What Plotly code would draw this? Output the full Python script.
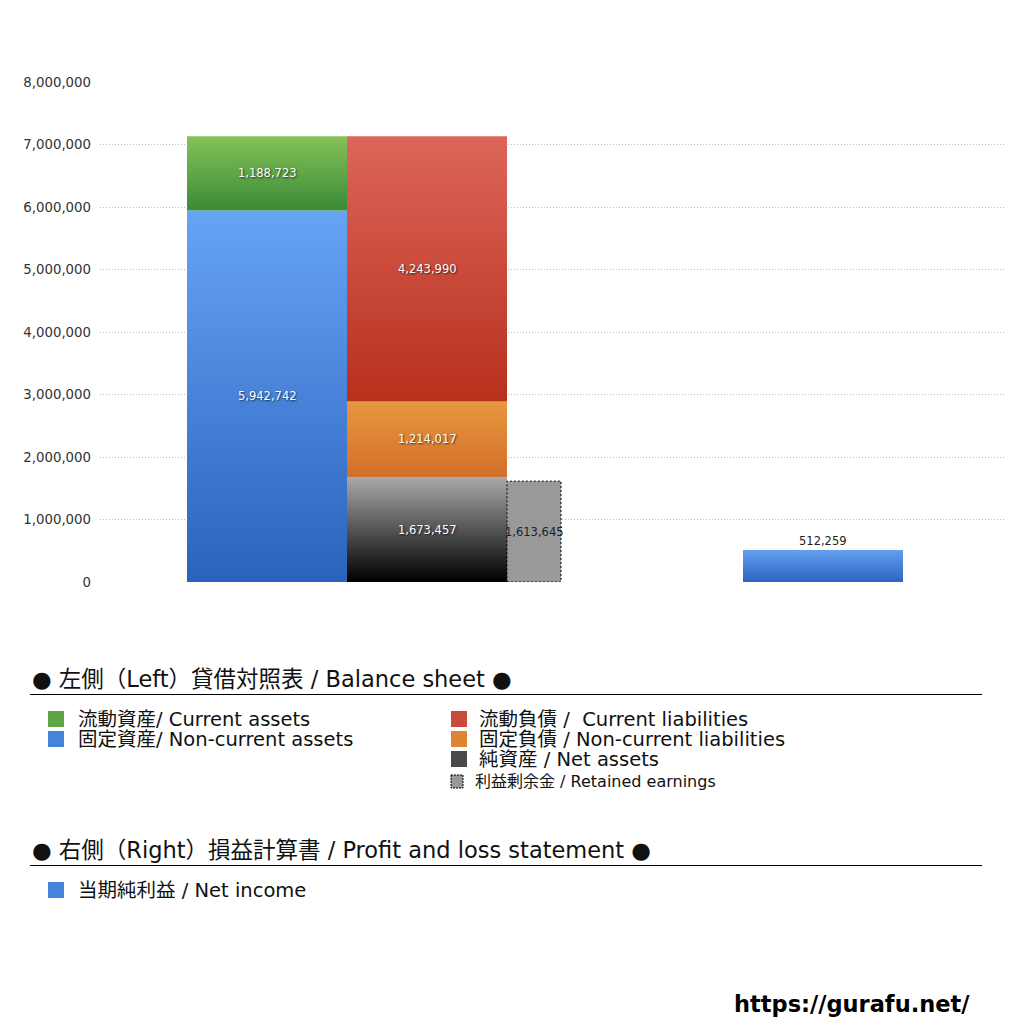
import plotly.graph_objects as go

# ---------------- data ----------------
current_assets = 1188723
noncurrent_assets = 5942742
current_liabilities = 4243990
noncurrent_liabilities = 1214017
net_assets = 1673457
retained_earnings = 1613645
net_income = 512259

y_ticks = [0, 1000000, 2000000, 3000000, 4000000, 5000000, 6000000, 7000000, 8000000]

header_left = "● 左側（Left）貸借対照表 / Balance sheet ●"
header_right = "● 右側（Right）損益計算書 / Profit and loss statement ●"
legend_left_col = ["流動資産/ Current assets", "固定資産/ Non-current assets"]
legend_right_col = ["流動負債 /  Current liabilities", "固定負債 / Non-current liabilities", "純資産 / Net assets"]
legend_retained = "利益剰余金 / Retained earnings"
legend_pl = ["当期純利益 / Net income"]
site = "https://gurafu.net/"

# ---------------- style / layout ----------------
FONT = "DejaVu Sans, Noto Sans CJK JP, sans-serif"
W = H = 1024
PL, PR, PT, PB = 100, 1005, 82, 582  # plot area in pixels

# column edges (x axis in pixel-like units)
COL_A = (187, 347)
COL_B = (347, 507)
COL_R = (507, 561)
COL_P = (743, 903)

grad = {
    "green": ("#3a8a37", "#86c257"),
    "blue": ("#2b62be", "#66a4f4"),
    "red": ("#b7301c", "#dd655a"),
    "orange": ("#d26e2a", "#e7983f"),
    "black": ("#000000", "#a8a8a8"),
    "blue2": ("#2c63bf", "#62a0ef"),
}

fig = go.Figure()


def add_block(x0, x1, y0, y1, colors, line=None):
    fig.add_trace(go.Scatter(
        x=[x0, x1, x1, x0, x0], y=[y0, y0, y1, y1, y0],
        mode="lines", fill="toself",
        fillgradient=dict(type="vertical", colorscale=[[0, colors[0]], [1, colors[1]]]),
        line=line or dict(width=0, color="rgba(0,0,0,0)"),
        hoverinfo="skip", showlegend=False,
    ))


def label(x, y, val, color="white", shadow=True, size=11.5):
    fig.add_annotation(
        x=x, y=y, xref="x", yref="y", text=f"{val:,}", showarrow=False,
        font=dict(family=FONT, size=size, color=color,
                  shadow="1px 1px 2px rgba(0,0,0,0.7)" if shadow else "none"),
    )


# left column: assets
a0 = 0
a1 = noncurrent_assets
a2 = a1 + current_assets
add_block(*COL_A, a0, a1, grad["blue"])
add_block(*COL_A, a1, a2, grad["green"])
cxA = sum(COL_A) / 2
label(cxA, (a0 + a1) / 2, noncurrent_assets)
label(cxA, (a1 + a2) / 2, current_assets)

# right column: net assets, non-current liabilities, current liabilities
b0 = 0
b1 = net_assets
b2 = b1 + noncurrent_liabilities
b3 = b2 + current_liabilities
add_block(*COL_B, b0, b1, grad["black"])
add_block(*COL_B, b1, b2, grad["orange"])
add_block(*COL_B, b2, b3, grad["red"])
cxB = sum(COL_B) / 2
label(cxB, (b0 + b1) / 2, net_assets)
label(cxB, (b1 + b2) / 2, noncurrent_liabilities)
label(cxB, (b2 + b3) / 2, current_liabilities)

# retained earnings (dotted)
add_block(*COL_R, 0, retained_earnings, ("#999999", "#999999"),
          line=dict(width=1, color="#000000", dash="2px,2px"))
label(sum(COL_R) / 2, retained_earnings / 2, retained_earnings, color="#222222", shadow=False, size=11.5)

# net income
add_block(*COL_P, 0, net_income, grad["blue2"])
fig.add_annotation(x=sum(COL_P) / 2, y=net_income, xref="x", yref="y", text=f"{net_income:,}",
                   showarrow=False, yshift=9, font=dict(family=FONT, size=11.5, color="#222222"))


# ---------------- legend (paper coords from pixels) ----------------
def px(x):
    return (x - PL) / (PR - PL)


def py(y):
    return (PB - y) / (PB - PT)


def text_at(x, y, t, size, color="#111111", weight="normal"):
    fig.add_annotation(x=px(x), y=py(y), xref="paper", yref="paper", text=t, showarrow=False,
                       xanchor="left", yanchor="middle",
                       font=dict(family=FONT, size=size, color=color, weight=weight))


def square(x0, y0, x1, y1, color, dash=None):
    fig.add_shape(type="rect", xref="paper", yref="paper",
                  x0=px(x0), x1=px(x1), y0=py(y0), y1=py(y1),
                  fillcolor=color,
                  line=dict(width=1 if dash else 0, color="#000000" if dash else color, dash=dash or "solid"))


def hline(y):
    fig.add_shape(type="line", xref="paper", yref="paper", x0=px(30), x1=px(982), y0=py(y), y1=py(y),
                  line=dict(width=1.2, color="#000000"))


HS = 22.5   # header size
IS = 19.5   # item size
text_at(30, 679, header_left, HS)
hline(694.5)
leg_colors_left = ["#5ea547", "#4584dc"]
for i, t in enumerate(legend_left_col):
    yc = 719 + 20 * i
    square(48, yc - 8, 64, yc + 8, leg_colors_left[i])
    text_at(76, yc, t, IS)
leg_colors_right = ["#cc4a3b", "#df8435", "#4a4a4a"]
for i, t in enumerate(legend_right_col):
    yc = 719 + 20 * i
    square(451, yc - 8, 467, yc + 8, leg_colors_right[i])
    text_at(477, yc, t, IS)
square(451, 775, 463, 788, "#999999", dash="2px,1px")
text_at(473, 781, legend_retained, 16)

text_at(30, 850, header_right, HS)
hline(865.5)
for i, t in enumerate(legend_pl):
    yc = 890 + 20 * i
    square(48, yc - 8, 64, yc + 8, "#4584dc")
    text_at(76, yc, t, IS)

fig.add_annotation(x=px(972), y=py(1004), xref="paper", yref="paper", text=site, showarrow=False,
                   xanchor="right", yanchor="middle",
                   font=dict(family="DejaVu Sans, sans-serif", size=22.5, color="#000000", weight="bold"))

fig.update_layout(
    width=W, height=H,
    margin=dict(l=PL, r=W - PR, t=PT, b=H - PB, autoexpand=False),
    paper_bgcolor="white", plot_bgcolor="white",
    showlegend=False,
    xaxis=dict(range=[PL, PR], visible=False, fixedrange=True),
    yaxis=dict(range=[0, 8000000], tickvals=y_ticks, tickformat=",d",
               showgrid=True, gridcolor="#bdbdbd", griddash="1px,2px", gridwidth=1,
               zeroline=False, showline=False, ticks="", ticklabelstandoff=8,
               tickfont=dict(family=FONT, size=13.3, color="#333333"), fixedrange=True),
)

fig.write_html("out.html", config={"displayModeBar": False},
               post_script="document.body.style.margin='0';")
